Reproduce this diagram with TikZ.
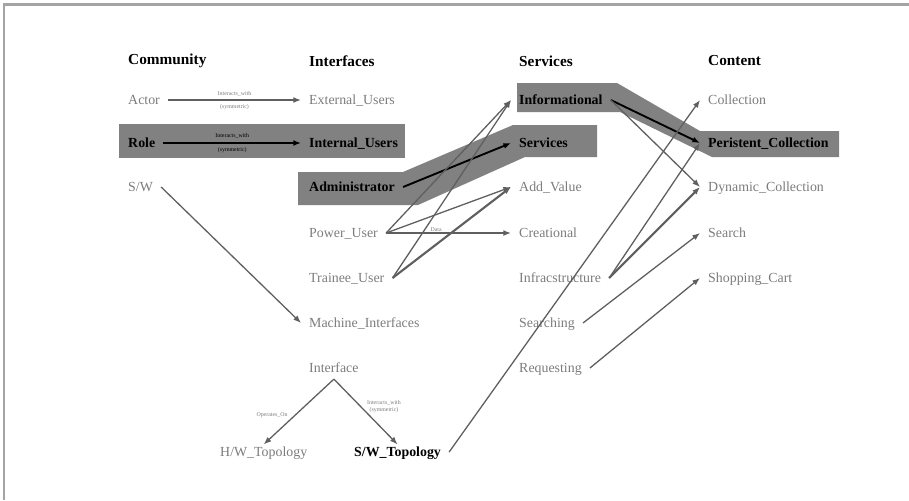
\documentclass[tikz,border=0pt]{standalone}
\usepackage{fontspec}
\setmainfont{Liberation Serif}
\usetikzlibrary{arrows.meta}

\definecolor{bandgray}{HTML}{818181}
\definecolor{txtgray}{HTML}{7C7C7C}
\definecolor{linegray}{HTML}{5F5F5F}
\definecolor{framegray}{HTML}{A4A4A4}

\begin{document}
\begin{tikzpicture}[x=0.85pt,y=-0.85pt,>={Latex[length=6.5pt,width=5pt]},
every node/.style={inner sep=0pt},
head/.style={anchor=west,font=\fontsize{13}{15}\selectfont\bfseries},
term/.style={anchor=west,text=txtgray,inner xsep=6.8pt,text height=10pt,text depth=2.5pt,font=\fontsize{11.8}{13}\selectfont},
hot/.style={term,text=black,font=\fontsize{11.8}{13}\selectfont\bfseries},
link/.style={->,draw=linegray,line width=1.1pt},
heavylink/.style={link,line width=1.8pt},
blacklink/.style={->,draw=black,line width=1.6pt},
tag/.style={font=\fontsize{5}{5.5}\selectfont,text=txtgray}]

\useasboundingbox (0,0) rectangle (909,500);
\draw[framegray,line width=1.8pt] (4,500) -- (4,4.5) -- (909,4.5);

% highlighted paths
\fill[bandgray] (119,124) rectangle (405,158);
\fill[bandgray] (298,172) -- (403,172) -- (513,125) -- (597,125) -- (597,157)
  -- (525,157) -- (418,205) -- (298,205) -- cycle;
\fill[bandgray] (517,83) -- (617,83) -- (700,131) -- (839,131) -- (839,157)
  -- (712,157) -- (620,112) -- (517,112) -- cycle;

\node[head] (community) at (128,61) {Community};
\node[head] (interfaces) at (309,61) {Interfaces};
\node[head] (servicescol) at (519,61) {Services};
\node[head] (content) at (708,61) {Content};

\node[term] (actor) at (120,100) {Actor};
\node[hot]  (role) at (120,143) {Role};
\node[term] (sw) at (120,187) {S/W};

\node[term] (extusers) at (301,100) {External\_Users};
\node[hot]  (intusers) at (301,143) {Internal\_Users};
\node[hot]  (admin) at (301,187) {Administrator};
\node[term] (power) at (301,233) {Power\_User};
\node[term] (trainee) at (301,278) {Trainee\_User};
\node[term] (machine) at (301,323) {Machine\_Interfaces};
\node[term] (iface) at (301,368) {Interface};
\node[term] (hwtopo) at (212,452) {H/W\_Topology};
\node[hot]  (swtopo) at (346,452) {S/W\_Topology};

\node[hot]  (inform) at (511,100) {Informational};
\node[hot]  (services) at (511,143) {Services};
\node[term] (addvalue) at (511,187) {Add\_Value};
\node[term] (creational) at (511,233) {Creational};
\node[term] (infra) at (511,278) {Infracstructure};
\node[term] (searching) at (511,323) {Searching};
\node[term] (requesting) at (511,368) {Requesting};

\node[term] (collection) at (700,100) {Collection};
\node[hot]  (persist) at (700,143) {Peristent\_Collection};
\node[term] (dynamic) at (700,187) {Dynamic\_Collection};
\node[term] (search) at (700,233) {Search};
\node[term] (cart) at (700,278) {Shopping\_Cart};

\draw[link] (actor.east) -- node[tag,above=3pt]{Interacts\_with} node[tag,below=3pt]{(symmetric)} (extusers.west);
\draw[blacklink] (role.east) -- node[tag,text=black,above=3pt]{Interacts\_with} node[tag,text=black,below=3pt]{(symmetric)} (intusers.west);
\draw[link] (sw.east) -- (machine.west);

\draw[blacklink] (admin.east) -- (services.west);
\draw[link] (power.east) -- (inform.west);
\draw[link] (power.east) -- (addvalue.west);
\draw[link] (power.east) -- node[tag,pos=0.4,above=0.5pt]{Data} (creational.west);
\draw[link] (trainee.east) -- (inform.west);
\draw[heavylink] (trainee.east) -- (addvalue.west);

\draw[blacklink] (inform.east) -- (persist.west);
\draw[link] (inform.east) -- (dynamic.west);
\draw[link] (infra.east) -- (persist.west);
\draw[heavylink] (infra.east) -- (dynamic.west);
\draw[link] (searching.east) -- (search.west);
\draw[link] (requesting.east) -- (cart.west);
\draw[link] (swtopo.east) -- (collection.west);

\draw[link] ([yshift=-3pt]iface.south) -- node[tag,pos=0.55,left=6pt]{Operates\_On} (hwtopo.north);
\draw[link] ([yshift=-3pt]iface.south) -- node[tag,pos=0.42,right=5pt,align=center]{Interacts\_with\\(symmetric)} (swtopo.north);

\end{tikzpicture}
\end{document}
